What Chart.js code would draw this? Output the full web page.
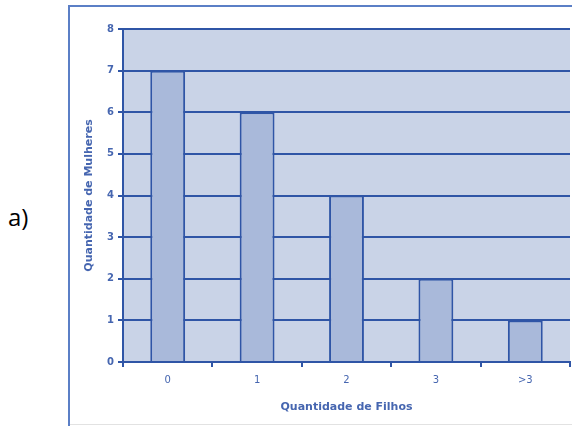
<!DOCTYPE html>
<html>
<head>
<meta charset="utf-8">
<script src="https://cdn.jsdelivr.net/npm/chart.js@4"></script>
<style>
  html, body { margin: 0; padding: 0; background: #fff; }
  body { width: 572px; height: 426px; position: relative; overflow: hidden; }
  #frame {
    position: absolute; left: 68px; top: 5px; width: 520px; height: 440px;
    border-left: 2px solid #5b7fc6; border-top: 2px solid #5b7fc6;
  }
  #bottomLine { position: absolute; left: 70px; top: 424px; width: 502px; height: 1px; background: #e2e2e2; }
  #label { position: absolute; left: 8px; top: 200px; font: 24px "Open Sans", Arial, sans-serif; color: #000; }
  #wrap { position: absolute; left: 0; top: 0; width: 572px; height: 426px; }
</style>
</head>
<body>
<div id="frame"></div>
<div id="bottomLine"></div>
<div id="label">a)</div>
<div id="wrap"><canvas id="chart" width="572" height="426"></canvas></div>
<script>
const categories = ["0", "1", "2", "3", ">3"];
const mulheres = [7, 6, 4, 2, 1];
const yTicks = [0, 1, 2, 3, 4, 5, 6, 7, 8];

const lineBlue = "#2f55a6";
const textBlue = "#4666b0";

// paint the plot area before the grid goes on
const plotBg = {
    id: "plotBg",
    beforeDraw(chart) {
        const a = chart.chartArea;
        const ctx = chart.ctx;
        ctx.save();
        ctx.fillStyle = "#c9d3e7";
        ctx.fillRect(a.left, a.top, a.right - a.left, a.bottom - a.top);
        ctx.restore();
    }
};

new Chart(document.getElementById("chart"), {
    type: "bar",
    data: {
        labels: categories,
        datasets: [{
            data: mulheres,
            backgroundColor: "#a9b9da",
            borderColor: lineBlue,
            borderWidth: 2,
            barPercentage: 0.39,
            categoryPercentage: 1
        }]
    },
    options: {
        responsive: false,
        animation: false,
        layout: { padding: { left: 82, right: 2, top: 29, bottom: 8 } },
        plugins: { legend: { display: false }, tooltip: { enabled: false } },
        scales: {
            x: {
                offset: true,
                grid: { offset: true, drawOnChartArea: false, drawTicks: true, tickLength: 5, color: lineBlue, lineWidth: 2 },
                border: { color: lineBlue, width: 2 },
                ticks: { color: textBlue, padding: 7, font: { family: "DejaVu Sans", size: 10 } },
                title: {
                    display: true, text: "Quantidade de Filhos", color: textBlue,
                    font: { family: "DejaVu Sans", size: 11, weight: "bold" }, padding: { top: 6 }
                },
                afterFit(s) { s.height = 56; }
            },
            y: {
                min: 0, max: 8,
                afterBuildTicks(s) { s.ticks = yTicks.map(v => ({ value: v })); },
                grid: { color: lineBlue, lineWidth: 2, tickLength: 5 },
                border: { color: lineBlue, width: 2 },
                ticks: { color: textBlue, padding: 4, font: { family: "DejaVu Sans", size: 10, weight: "bold" } },
                title: {
                    display: true, text: "Quantidade de Mulheres", color: textBlue,
                    font: { family: "DejaVu Sans", size: 11, weight: "bold" }, padding: 1
                },
                afterFit(s) { s.width = 41; }
            }
        }
    },
    plugins: [plotBg]
});
</script>
</body>
</html>
